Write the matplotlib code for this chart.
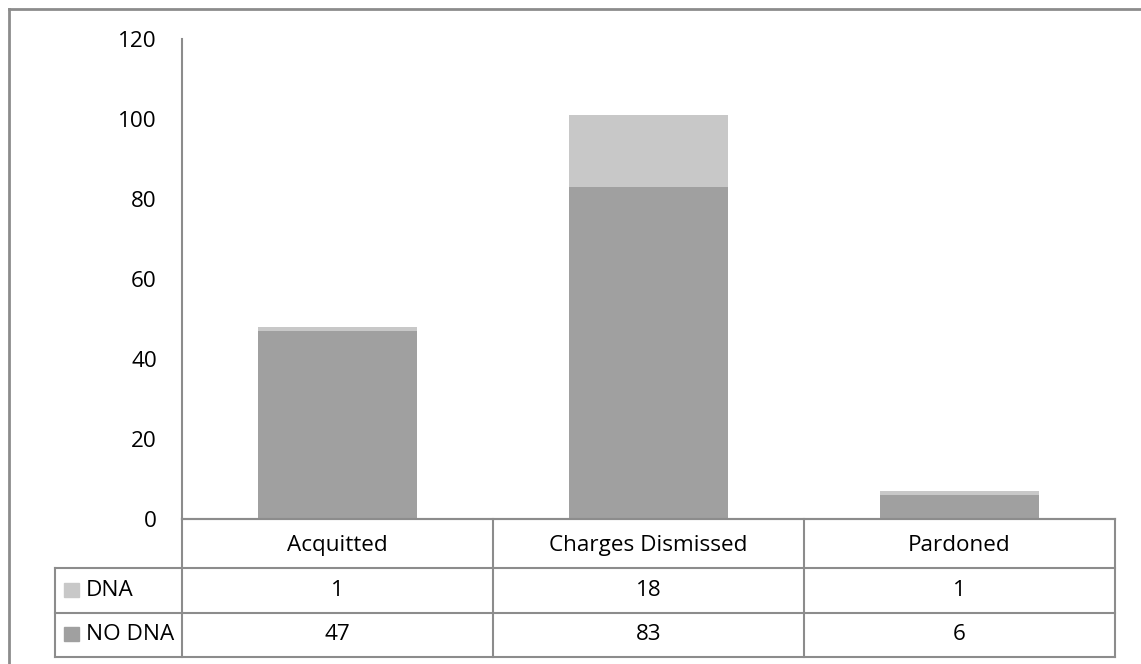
import matplotlib
matplotlib.use("Agg")
import matplotlib.pyplot as plt
from matplotlib.transforms import blended_transform_factory
from matplotlib.patches import Rectangle
import numpy as np

categories = ["Acquitted", "Charges Dismissed", "Pardoned"]
no_dna = [47, 83, 6]
dna = [1, 18, 1]
series_names = ["DNA", "NO DNA"]
y_ticks = [0, 20, 40, 60, 80, 100, 120]

COL_DNA = "#C8C8C8"
COL_NODNA = "#A0A0A0"
LINE = "#8C8C8C"
FONT = "Open Sans"
FS = 16.2

W, H = 1141, 664
fig = plt.figure(figsize=(W / 100, H / 100), dpi=100)

def fx(px):
    return px / W

def fy(py):
    return 1 - py / H

ax_left, ax_right, ax_top, ax_bottom = 182, 1115, 39, 519
ax = fig.add_axes([fx(ax_left), fy(ax_bottom), fx(ax_right - ax_left),
                   (ax_bottom - ax_top) / H])

x = np.arange(len(categories))
bw = 0.51
ax.bar(x, no_dna, width=bw, color=COL_NODNA, zorder=2)
ax.bar(x, dna, width=bw, bottom=no_dna, color=COL_DNA, zorder=2)

ax.set_xlim(-0.5, len(categories) - 0.5)
ax.set_ylim(0, 120)
ax.set_yticks(y_ticks)
ax.set_yticklabels([str(t) for t in y_ticks], fontsize=FS, family=FONT)
ax.tick_params(axis="y", length=0, pad=18)
ax.set_xticks([])
for s in ["top", "right"]:
    ax.spines[s].set_visible(False)
for s in ["left", "bottom"]:
    ax.spines[s].set_color(LINE)
    ax.spines[s].set_linewidth(1.5)

# data table below the plot area, in pixel rows
px_per_axes = ax_bottom - ax_top
def ay(py):
    return (ax_bottom - py) / px_per_axes

tr = blended_transform_factory(ax.transData, ax.transAxes)
rows = [519, 568, 613, 657]
label_left = 55
# label column left edge in data units
x_per_px = len(categories) / (ax_right - ax_left)
lab_x0 = -0.5 - (ax_left - label_left) * x_per_px

lw = 1.5
kw = dict(color=LINE, lw=lw, clip_on=False, transform=tr, solid_capstyle="projecting")
# horizontal lines
ax.plot([-0.5, len(categories) - 0.5], [ay(rows[0])] * 2, **kw)
for r in rows[1:]:
    ax.plot([lab_x0, len(categories) - 0.5], [ay(r)] * 2, **kw)
# vertical lines
for b in np.arange(len(categories) + 1) - 0.5:
    ax.plot([b, b], [ay(rows[0]), ay(rows[-1])], **kw)
ax.plot([lab_x0, lab_x0], [ay(rows[1]), ay(rows[-1])], **kw)

# header row with category names
for i, c in enumerate(categories):
    ax.text(i, ay((rows[0] + rows[1]) / 2 + 2), c, transform=tr, ha="center",
            va="center", fontsize=FS, family=FONT)

# value rows
table_rows = [(series_names[0], dna, COL_DNA), (series_names[1], no_dna, COL_NODNA)]
for k, (name, vals, col) in enumerate(table_rows):
    yc_px = (rows[k + 1] + rows[k + 2]) / 2
    yc = ay(yc_px)
    for i, v in enumerate(vals):
        ax.text(i, yc, str(v), transform=tr, ha="center", va="center",
                fontsize=FS, family=FONT)
    # legend key square and series name
    key_w, key_h = 15, 14
    ax.add_patch(Rectangle((lab_x0 + 9 * x_per_px, ay(yc_px + key_h / 2 - 1)),
                           key_w * x_per_px, key_h / px_per_axes,
                           transform=tr, color=col, clip_on=False))
    ax.text(lab_x0 + 31 * x_per_px, yc, name, transform=tr, ha="left",
            va="center", fontsize=FS, family=FONT)

# chart-area frame (top and left edges)
fig.add_artist(plt.Line2D([fx(9), 1], [fy(9), fy(9)], color=LINE, lw=2,
                          transform=fig.transFigure))
fig.add_artist(plt.Line2D([fx(9), fx(9)], [fy(9), 0], color=LINE, lw=2,
                          transform=fig.transFigure))

fig.savefig("out.png", dpi=100, facecolor="white")
